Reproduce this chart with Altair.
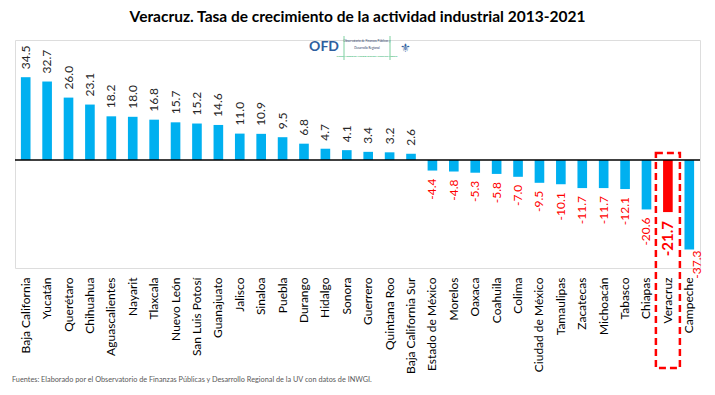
import altair as alt
import pandas as pd

estados = ["Baja California", "Yucatán", "Querétaro", "Chihuahua", "Aguascalientes",
           "Nayarit", "Tlaxcala", "Nuevo León", "San Luis Potosí", "Guanajuato",
           "Jalisco", "Sinaloa", "Puebla", "Durango", "Hidalgo", "Sonora", "Guerrero",
           "Quintana Roo", "Baja California Sur", "Estado de México", "Morelos", "Oaxaca",
           "Coahuila", "Colima", "Ciudad de México", "Tamaulipas", "Zacatecas",
           "Michoacán", "Tabasco", "Chiapas", "Veracruz", "Campeche"]
valores = [34.5, 32.7, 26.0, 23.1, 18.2, 18.0, 16.8, 15.7, 15.2, 14.6, 11.0, 10.9, 9.5,
           6.8, 4.7, 4.1, 3.4, 3.2, 2.6, -4.4, -4.8, -5.3, -5.8, -7.0, -9.5, -10.1,
           -11.7, -11.7, -12.1, -20.6, -21.7, -37.3]
destacado = "Veracruz"
caja_arriba = [2.9]
caja_abajo = [-86.7]

titulo = "Veracruz. Tasa de crecimiento de la actividad industrial 2013-2021"
fuente = ("Fuentes: Elaborado por el Observatorio de Finanzas Públicas y Desarrollo "
          "Regional de la UV con datos de INWGI.")
logo_lineas = ["Observatorio de Finanzas Públicas y", "Desarrollo Regional"]
logo_sub = ["Cuerpo Académico: Finanzas públicas y desarrollo regional"]

df = pd.DataFrame({"estado": estados, "valor": valores})
df["etiqueta"] = df["valor"].map(lambda v: f"{v:.1f}")
df["tipo"] = ["destacado" if e == destacado else "normal" for e in estados]

FONT = "Lato"
xenc = alt.X("estado:N", sort=estados,
             scale=alt.Scale(domain=estados, paddingInner=0.55, paddingOuter=0.275),
             axis=alt.Axis(title=None, domain=False, ticks=False, labelAngle=270,
                           labelAlign="right", labelBaseline="middle", labelPadding=9,
                           labelFontSize=12, labelColor="#000000", labelFont=FONT))
yscale = alt.Scale(domain=[-45, 50], nice=False, zero=False)
yenc = alt.Y("valor:Q", scale=yscale, axis=None)

base = alt.Chart(df)

barras = base.mark_bar().encode(
    x=xenc, y=yenc,
    color=alt.Color("tipo:N", scale=alt.Scale(domain=["normal", "destacado"],
                                               range=["#00B0F0", "#FF0000"]), legend=None),
)

pos = base.transform_filter("datum.valor > 0").mark_text(
    angle=270, align="left", baseline="middle", dx=8, fontSize=12, font=FONT,
    color="#262626").encode(x=xenc, y=yenc, text="etiqueta:N")

neg = base.transform_filter(
    "datum.valor < 0 && datum.estado != 'Veracruz' && datum.estado != 'Campeche'"
).mark_text(angle=270, align="right", baseline="middle", dx=-8, fontSize=12, font=FONT,
            color="#FF0000").encode(x=xenc, y=yenc, text="etiqueta:N")

ver = base.transform_filter("datum.estado == 'Veracruz'").mark_text(
    angle=270, align="right", baseline="middle", dx=-9, fontSize=15, fontWeight="bold",
    font=FONT, color="#FF0000").encode(x=xenc, y=yenc, text="etiqueta:N")

cam = base.transform_filter("datum.estado == 'Campeche'").mark_text(
    angle=270, align="right", baseline="middle", dx=-1, dy=8, fontSize=12, font=FONT,
    color="#FF0000").encode(x=xenc, y=yenc, text="etiqueta:N")

cero = alt.Chart(pd.DataFrame({"v": [0]})).mark_rule(color="#000000", strokeWidth=1.3).encode(
    y=alt.Y("v:Q", scale=yscale, axis=None))

caja_df = pd.DataFrame({"estado": [destacado], "arriba": caja_arriba, "abajo": caja_abajo})
caja = alt.Chart(caja_df).mark_bar(width=24, filled=False, stroke="#FF0000", strokeWidth=2.5,
                                   strokeDash=[7, 4]).encode(
    x=xenc, y=alt.Y("arriba:Q", scale=yscale, axis=None), y2="abajo:Q")

pie = alt.Chart(pd.DataFrame({"t": [fuente]})).mark_text(
    align="left", baseline="middle", fontSize=7.3, font=FONT, color="#595959").encode(
    x=alt.value(-3), y=alt.value(340), text="t:N")

logo = alt.Chart(pd.DataFrame({"t": ["OFD"]})).mark_text(
    align="right", baseline="middle", fontSize=14, fontWeight="bold", font=FONT,
    color="#2E5E9E").encode(x=alt.value(324), y=alt.value(7), text="t:N")
logo2 = alt.Chart(pd.DataFrame({"t": logo_lineas, "yy": [1, 8]})).mark_text(
    align="center", baseline="middle", fontSize=3, font=FONT, color="#1F3864").encode(
    x=alt.value(352), y=alt.Y("yy:Q", scale=None), text="t:N")
logo3 = alt.Chart(pd.DataFrame({"t": logo_sub})).mark_text(
    align="center", baseline="middle", fontSize=2.4, font=FONT, color="#00A651").encode(
    x=alt.value(352), y=alt.value(16), text="t:N")
lineas = alt.Chart(pd.DataFrame({"xx": [329, 375]})).mark_rule(color="#7FD1A0", strokeWidth=1).encode(
    x=alt.X("xx:Q", scale=None), y=alt.value(-4), y2=alt.value(20))
escudo = alt.Chart(pd.DataFrame({"t": ["⚜"]})).mark_text(
    align="center", baseline="middle", fontSize=12, color="#2E5E9E").encode(
    x=alt.value(390), y=alt.value(8), text="t:N")

chart = alt.layer(barras, cero, pos, neg, ver, cam, caja, pie, logo, logo2, logo3, lineas, escudo).properties(
    width=685, height=228,
    title=alt.TitleParams(titulo, fontSize=15.5, fontWeight="bold", font=FONT, color="#000000",
                          anchor="middle", offset=10),
    autosize=alt.AutoSizeParams(type="none"),
    padding={"left": 7, "top": 32, "right": 5, "bottom": 115},
).configure_view(stroke=None).configure(background="white")

chart.save("out.html", embed_options={"renderer": "svg", "actions": False})
